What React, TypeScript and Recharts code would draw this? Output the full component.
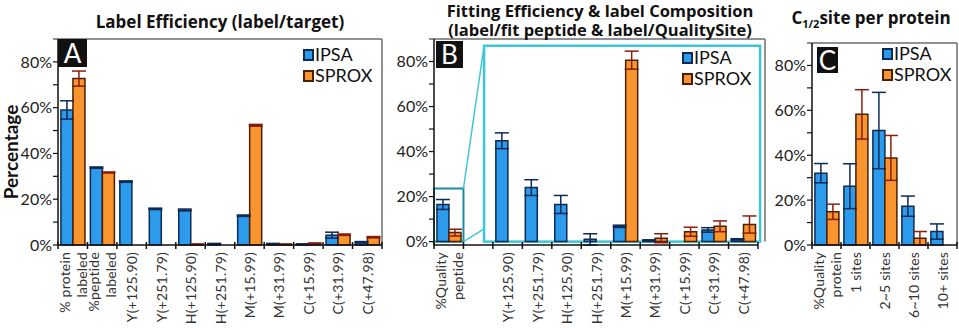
import React from 'react'
import { Bar, BarChart, ErrorBar, Legend, ReferenceArea, XAxis, YAxis } from 'recharts'

// panel A: label efficiency
const catsA = ['% protein\nlabeled', '%peptide\nlabeled', 'Y(+125.90)', 'Y(+251.79)', 'H(+125.90)', 'H(+251.79)', 'M(+15.99)', 'M(+31.99)', 'C(+15.99)', 'C(+31.99)', 'C(+47.98)']
const ipsaA = [59, 33.8, 27.7, 15.8, 15.3, 0.5, 12.8, 0.5, 0.3, 4.3, 1.2]
const ipsaErrA = [4, 0.3, 0.3, 0.3, 0.4, 0.2, 0.3, 0.2, 0.2, 1.3, 0.3]
const sproxA = [72.7, 31.7, 0, 0, 0.3, 0, 52.3, 0.3, 0.6, 4.5, 3.4]
const sproxErrA = [3.3, 0.2, null, null, 0.1, null, 0.4, 0.1, 0.3, 0.3, 0.3]

// panel B: fitting efficiency & label composition
const catsB = ['%Quality\npeptide', '', 'Y(+125.90)', 'Y(+251.79)', 'H(+125.90)', 'H(+251.79)', 'M(+15.99)', 'M(+31.99)', 'C(+15.99)', 'C(+31.99)', 'C(+47.98)']
const ipsaB = [16.5, null, 44.8, 24, 16.5, 1, 6.8, 0.5, 0, 5.2, 1]
const ipsaErrB = [2.2, null, 3.5, 3.5, 4, 2.5, 0.5, 0.3, null, 1, 0.3]
const sproxB = [4, null, 0, 0, 0, 0, 80.6, 1.5, 4.4, 6.8, 7.6]
const sproxErrB = [1.5, null, null, null, null, null, 4, 2, 2, 2.4, 3.8]

// panel C: C1/2 site per protein
const catsC = ['%Quality\nprotein', '1 sites', '2~5 sites', '6~10 sites', '10+ sites']
const ipsaC = [32, 26.2, 51, 17.3, 6]
const ipsaErrC = [4.3, 10, 17, 4.5, 3.4]
const sproxC = [14.8, 58.2, 38.8, 3, null]
const sproxErrC = [3.4, 11, 10, 3, null]

const yTicks = [0, 10, 20, 30, 40, 50, 60, 70, 80]
const Y_MAX = 90

// zoom overlay in panel B (x in category bands, y in %)
const zoomSmall = { x1: 0, x2: 1, y2: 23.6 }
const zoomBig = { x1: 1.7, x2: 11.07, y2: 87 }
const zoomLowY = 5.7

const FONT = 'Lato, "Open Sans", sans-serif'
const TITLE_FONT = '"Open Sans", Lato, sans-serif'
const BLUE = '#2c9bec'
const BLUE_EDGE = '#0d2a52'
const ORANGE = '#f8952e'
const ORANGE_EDGE = '#4a1f04'
const RED_ERR = '#8a1d0c'
const FRAME = '#6d6d6d'
const CYAN = '#3ec6d6'
const TEAL = '#1d8c9e'

const rows = (cats: string[], ipsa: any[], ipsaErr: any[], sprox: any[], sproxErr: any[]) =>
  cats.map((name, i) => ({ name, ipsa: ipsa[i], ipsaErr: ipsaErr[i], sprox: sprox[i], sproxErr: sproxErr[i] }))

const dataA = rows(catsA, ipsaA, ipsaErrA, sproxA, sproxErrA)
const dataB = rows(catsB, ipsaB, ipsaErrB, sproxB, sproxErrB)
const dataC = rows(catsC, ipsaC, ipsaErrC, sproxC, sproxErrC)

const makeTick = (band: number, count: number) => (props: any) => {
  const { x, y, payload, index } = props
  const lines = String(payload.value).split('\n')
  const half = band / 2
  return (
    <g>
      <line x1={x - half} x2={x - half} y1={y - 3} y2={y + 4} stroke="#111" strokeWidth={1.5} />
      {index === count - 1 && <line x1={x + half} x2={x + half} y1={y - 3} y2={y + 4} stroke="#111" strokeWidth={1.5} />}
      {lines.map((l, i) => (
        <text
          key={i}
          x={0}
          y={0}
          transform={`translate(${x + (i - (lines.length - 1) / 2) * 17},${y + 7}) rotate(-90)`}
          textAnchor="end"
          dominantBaseline="central"
          fontFamily={FONT}
          fontSize={14}
          letterSpacing={0.2}
          fill="#333"
        >
          {l}
        </text>
      ))}
    </g>
  )
}

// frame (top + right) drawn from the area spanning all categories and the full y range
const makeFrame = (count: number, padRight: number, zoom: boolean) => (props: any) => {
  const { x, y, width, height } = props
  const band = width / count
  const per = height / Y_MAX
  const base = y + height
  const right = x + width + padRight
  const bx = (u: number) => x + u * band
  const by = (v: number) => base - v * per
  return (
    <g>
      <line x1={x - 5} x2={right} y1={y} y2={y} stroke={FRAME} strokeWidth={1.5} />
      <line x1={right} x2={right} y1={y} y2={base} stroke={FRAME} strokeWidth={1.5} />
      {zoom && (
        <g fill="none">
          <rect x={bx(zoomBig.x1)} y={by(zoomBig.y2)} width={bx(zoomBig.x2) - bx(zoomBig.x1)} height={base - by(zoomBig.y2)} stroke={CYAN} strokeWidth={2.5} />
          <rect x={bx(zoomSmall.x1)} y={by(zoomSmall.y2)} width={bx(zoomSmall.x2) - bx(zoomSmall.x1)} height={base - by(zoomSmall.y2)} stroke={TEAL} strokeWidth={2} />
          <line x1={bx(zoomSmall.x2)} y1={by(zoomSmall.y2)} x2={bx(zoomBig.x1)} y2={by(zoomBig.y2)} stroke={CYAN} strokeWidth={1.5} />
          <line x1={bx(zoomSmall.x2)} y1={base} x2={bx(zoomBig.x1)} y2={by(zoomLowY)} stroke={CYAN} strokeWidth={1.5} />
        </g>
      )}
    </g>
  )
}

const edgeOf: Record<string, string> = { IPSA: BLUE_EDGE, SPROX: ORANGE_EDGE }

const renderLegend = (props: any) => (
  <div style={{ fontFamily: FONT, fontSize: 18, color: '#111', lineHeight: '21px' }}>
    {props.payload.map((p: any) => (
      <div key={p.value} style={{ display: 'flex', alignItems: 'center' }}>
        <span style={{ display: 'inline-block', width: 7, height: 8, background: p.color, border: `2px solid ${edgeOf[p.value]}`, marginRight: 1 }} />
        {p.value}
      </div>
    ))}
  </div>
)

type PanelProps = {
  data: any[]
  left: number
  width: number
  top: number
  marginLeft: number
  marginRight: number
  yWidth: number
  padRight: number
  band: number
  legendLeft: number
  legendTop: number
  zoom?: boolean
}

const Panel = (p: PanelProps) => (
  <div style={{ position: 'absolute', left: p.left, top: 0 }}>
    <BarChart
      width={p.width}
      height={328}
      data={p.data}
      margin={{ top: p.top, right: p.marginRight + p.padRight, left: p.marginLeft, bottom: 3 }}
      barCategoryGap="10%"
      barGap={0}
      style={{ overflow: 'visible' }}
    >
      <XAxis
        dataKey="name"
        interval={0}
        height={80}
        tickSize={0}
        tickMargin={0}
        tickLine={false}
        axisLine={{ stroke: '#111', strokeWidth: 1.5 }}
        tick={makeTick(p.band, p.data.length)}
      />
      <YAxis
        domain={[0, Y_MAX]}
        ticks={yTicks}
        interval={0}
        width={p.yWidth}
        tickSize={5}
        tickMargin={1}
        tickFormatter={(v: number) => (v % 20 === 0 ? `${v}%` : '')}
        tick={{ fontFamily: FONT, fontSize: 16, fill: '#222' }}
        tickLine={{ stroke: '#111', strokeWidth: 1.2 }}
        axisLine={{ stroke: '#111', strokeWidth: 1.5 }}
      />
      <ReferenceArea
        x1={p.data[0].name}
        x2={p.data[p.data.length - 1].name}
        y1={0}
        y2={Y_MAX}
        ifOverflow="visible"
        shape={makeFrame(p.data.length, p.padRight, !!p.zoom)}
      />
      <Bar dataKey="ipsa" name="IPSA" fill={BLUE} stroke={BLUE_EDGE} strokeWidth={1.5} isAnimationActive={false}>
        <ErrorBar dataKey="ipsaErr" width={7} stroke={BLUE_EDGE} strokeWidth={1.5} direction="y" />
      </Bar>
      <Bar dataKey="sprox" name="SPROX" fill={ORANGE} stroke={ORANGE_EDGE} strokeWidth={1.5} isAnimationActive={false}>
        <ErrorBar dataKey="sproxErr" width={7} stroke={RED_ERR} strokeWidth={1.5} direction="y" />
      </Bar>
      <Legend
        layout="vertical"
        align="center"
        verticalAlign="middle"
        content={renderLegend}
        wrapperStyle={{ left: p.legendLeft, top: p.legendTop, width: 'auto', height: 'auto' }}
      />
    </BarChart>
  </div>
)

const letterBox = (txt: string, left: number, top: number, w: number, h: number) => (
  <div
    style={{
      position: 'absolute', left, top, width: w, height: h, background: '#111', color: '#fff',
      fontFamily: FONT, fontSize: 26, lineHeight: `${h}px`, textAlign: 'center'
    }}
  >
    {txt}
  </div>
)

const title = (txt: React.ReactNode, cx: number, top: number, size = 17) => (
  <div
    style={{
      position: 'absolute', left: cx - 200, top, width: 400, textAlign: 'center',
      fontFamily: TITLE_FONT, fontWeight: 700, fontSize: size, lineHeight: '19px', color: '#111'
    }}
  >
    {txt}
  </div>
)

export default function App() {
  return (
    <div style={{ position: 'relative', width: 959, height: 328, background: '#fff', overflow: 'hidden' }}>
      <style>{'body{margin:0}'}</style>
      <Panel data={dataA} left={0} width={400} top={39} marginLeft={8} marginRight={18} yWidth={50} padRight={0} band={324 / 11} legendLeft={303} legendTop={44} />
      <Panel data={dataB} left={380} width={400} top={39} marginLeft={4} marginRight={15} yWidth={50} padRight={7} band={324 / 11} legendLeft={302} legendTop={47} zoom />
      <Panel data={dataC} left={770} width={189} top={43} marginLeft={2} marginRight={2} yWidth={40} padRight={0} band={145 / 5} legendLeft={112} legendTop={43} />
      {letterBox('A', 58, 39, 29, 28)}
      {letterBox('B', 436, 41, 27, 27)}
      {letterBox('C', 817, 47, 21, 26)}
      {title('Label Efficiency (label/target)', 220, 12)}
      {title('Fitting Efficiency & label Composition', 600, 1, 16.5)}
      {title('(label/fit peptide & label/QualitySite)', 600, 20, 16.5)}
      {title(<>C<sub style={{ fontSize: 11, lineHeight: 0 }}>1/2</sub>site per protein</>, 871, 8)}
      <div
        style={{
          position: 'absolute', left: 10, top: 152, transform: 'translate(-50%, -50%) rotate(-90deg)',
          fontFamily: FONT, fontWeight: 700, fontSize: 19, color: '#111', whiteSpace: 'nowrap'
        }}
      >
        Percentage
      </div>
    </div>
  )
}
